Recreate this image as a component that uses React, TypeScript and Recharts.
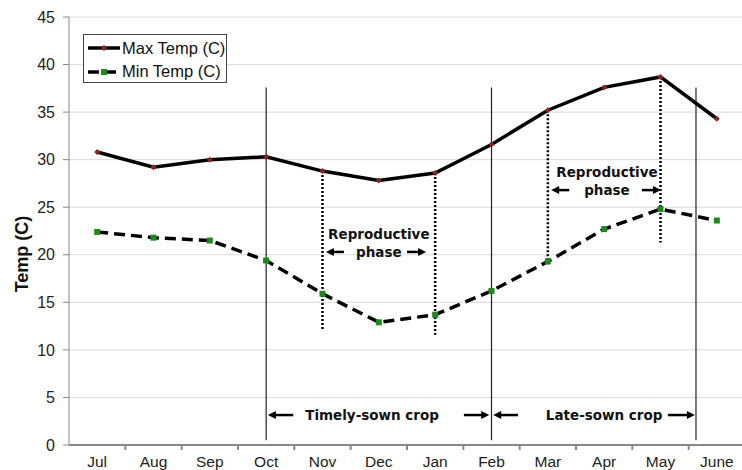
import React from 'react';
import {
  LineChart, Line, XAxis, YAxis, CartesianGrid, ReferenceLine, ReferenceDot, Legend,
} from 'recharts';

const months = ['Jul', 'Aug', 'Sep', 'Oct', 'Nov', 'Dec', 'Jan', 'Feb', 'Mar', 'Apr', 'May', 'June'];
const maxTemp = [30.8, 29.2, 30.0, 30.3, 28.8, 27.8, 28.6, 31.6, 35.2, 37.6, 38.7, 34.3];
const minTemp = [22.4, 21.8, 21.5, 19.4, 15.9, 12.9, 13.7, 16.2, 19.3, 22.7, 24.8, 23.6];
const yTicks = [0, 5, 10, 15, 20, 25, 30, 35, 40, 45];

// annotations, x in month index, y in degrees
const sowingLines = [3, 7, 10.63];
const sowingRange = [0.5, 37.6];
const phaseLines = [
  { x: 4, bottom: 12.1 },
  { x: 6, bottom: 11.6 },
  { x: 8, bottom: 18.9 },
  { x: 10, bottom: 21.3 },
];
const arrows = [
  { from: [4.38, 20.3], to: [4.06, 20.3] },
  { from: [5.5, 20.3], to: [5.84, 20.3] },
  { from: [8.38, 26.8], to: [8.06, 26.8] },
  { from: [9.67, 26.8], to: [10.01, 26.8] },
  { from: [3.48, 3.15], to: [3.03, 3.15] },
  { from: [6.51, 3.15], to: [6.96, 3.15] },
  { from: [7.47, 3.15], to: [7.03, 3.15] },
  { from: [10.13, 3.15], to: [10.61, 3.15] },
];
const notes = [
  { x: 5.0, y: 22.2, text: 'Reproductive' },
  { x: 5.0, y: 20.3, text: 'phase' },
  { x: 9.05, y: 28.7, text: 'Reproductive' },
  { x: 9.05, y: 26.8, text: 'phase' },
  { x: 4.88, y: 3.15, text: 'Timely-sown crop' },
  { x: 9.0, y: 3.15, text: 'Late-sown crop' },
];

const data = months.map((m, i) => ({ x: i, max: maxTemp[i], min: minTemp[i] }));

const CHART_W = 762;
const Y_AXIS_W = 69;
const RIGHT = 17;
const BAND = (CHART_W - Y_AXIS_W - RIGHT) / months.length;
const FONT = '"Liberation Sans", Arial, sans-serif';
const NOTE_FONT = '"DejaVu Sans", Verdana, sans-serif';

const MonthTick = (props: any) => {
  const { x, y, payload } = props;
  return (
    <g>
      {payload.value > 0 && (
        <line x1={x - BAND / 2} x2={x - BAND / 2} y1={y - 7} y2={y - 2} stroke="#888" strokeWidth={2} />
      )}
      <text x={x} y={y + 15} textAnchor="middle" fill="#222" fontSize={15.5} fontFamily={FONT}>
        {months[payload.value]}
      </text>
    </g>
  );
};

const MaxDot = (props: any) => {
  const { cx, cy } = props;
  return <polygon points={`${cx},${cy - 3} ${cx + 3},${cy} ${cx},${cy + 3} ${cx - 3},${cy}`} fill="#8b2323" />;
};

const MinDot = (props: any) => {
  const { cx, cy } = props;
  return <rect x={cx - 3} y={cy - 3} width={6} height={6} fill="#1e8a1e" />;
};

const Arrow = (props: any) => {
  const { x1, y1, x2, y2 } = props;
  const dir = x2 > x1 ? 1 : -1;
  return (
    <g>
      <line x1={x1} y1={y1} x2={x2 - dir * 6} y2={y2} stroke="#000" strokeWidth={2.5} />
      <polygon points={`${x2},${y2} ${x2 - dir * 8},${y2 - 4} ${x2 - dir * 8},${y2 + 4}`} fill="#000" />
    </g>
  );
};

const LegendBox = () => (
  <div style={{ border: '1px solid #444', background: '#fff', width: 144, height: 49, fontFamily: FONT, fontSize: 16.5, color: '#111', boxSizing: 'border-box' }}>
    <div style={{ display: 'flex', alignItems: 'center', height: 24, marginTop: 1 }}>
      <svg width={35} height={10} style={{ marginLeft: 3 }}>
        <line x1={1} y1={5} x2={33} y2={5} stroke="#000" strokeWidth={3.5} />
        <polygon points="17,2 20,5 17,8 14,5" fill="#8b2323" />
      </svg>
      <span>Max Temp (C)</span>
    </div>
    <div style={{ display: 'flex', alignItems: 'center', height: 23 }}>
      <svg width={35} height={10} style={{ marginLeft: 3 }}>
        <line x1={1} y1={5} x2={33} y2={5} stroke="#000" strokeWidth={3.5} strokeDasharray="11 6" />
        <rect x={14} y={2} width={6} height={6} fill="#1e8a1e" />
      </svg>
      <span>Min Temp (C)</span>
    </div>
  </div>
);

const YLabel = () => (
  <text x={22} y={254} transform="rotate(-90 22 254)" textAnchor="middle" dominantBaseline="central"
    fontSize={18} fontWeight="bold" fontFamily={FONT} fill="#111">
    Temp (C)
  </text>
);

export default function App() {
  return (
    <div style={{ position: 'absolute', left: 0, top: 0, width: 742, height: 470, overflow: 'hidden', background: '#fff' }}>
      <LineChart width={CHART_W} height={470} data={data} margin={{ top: 17, right: RIGHT, bottom: 0, left: 0 }}>
        <CartesianGrid vertical={false} stroke="#d9d9d9" />
        <XAxis
          dataKey="x"
          type="number"
          domain={[-0.5, 11.5]}
          ticks={months.map((m, i) => i)}
          tick={<MonthTick />}
          tickLine={false}
          tickSize={5}
          tickMargin={2}
          height={25}
          axisLine={{ stroke: '#888', strokeWidth: 2 }}
        />
        <YAxis
          domain={[0, 45]}
          ticks={yTicks}
          width={Y_AXIS_W}
          tickSize={6}
          tickMargin={8}
          tick={{ fill: '#222', fontSize: 16, fontFamily: FONT }}
          tickLine={{ stroke: '#888' }}
          axisLine={{ stroke: '#888' }}
          label={YLabel}
        />
        <Legend
          layout="horizontal"
          verticalAlign="middle"
          align="center"
          content={<LegendBox />}
          wrapperStyle={{ left: 83, top: 34, width: 144, height: 49 }}
        />
        {sowingLines.map((x) => (
          <ReferenceLine key={`s${x}`} segment={[{ x, y: sowingRange[0] }, { x, y: sowingRange[1] }]} stroke="#222" strokeWidth={1.2} />
        ))}
        {phaseLines.map((p) => (
          <ReferenceLine key={`p${p.x}`} segment={[{ x: p.x, y: maxTemp[p.x] }, { x: p.x, y: p.bottom }]}
            stroke="#000" strokeWidth={2.5} strokeDasharray="2 2" />
        ))}
        {arrows.map((a, i) => (
          <ReferenceLine key={`a${i}`} segment={[{ x: a.from[0], y: a.from[1] }, { x: a.to[0], y: a.to[1] }]} shape={Arrow} />
        ))}
        {notes.map((n, i) => (
          <ReferenceDot key={`n${i}`} x={n.x} y={n.y} r={0}
            shape={(p: any) => (
              <text x={p.cx} y={p.cy} textAnchor="middle" dominantBaseline="central" fontSize={13.5}
                fontWeight="bold" fontFamily={NOTE_FONT} fill="#111">{n.text}</text>
            )}
          />
        ))}
        <Line dataKey="max" stroke="#000" strokeWidth={3.5} dot={<MaxDot />} isAnimationActive={false} />
        <Line dataKey="min" stroke="#000" strokeWidth={3.5} strokeDasharray="11 6" dot={<MinDot />} isAnimationActive={false} />
      </LineChart>
    </div>
  );
}
